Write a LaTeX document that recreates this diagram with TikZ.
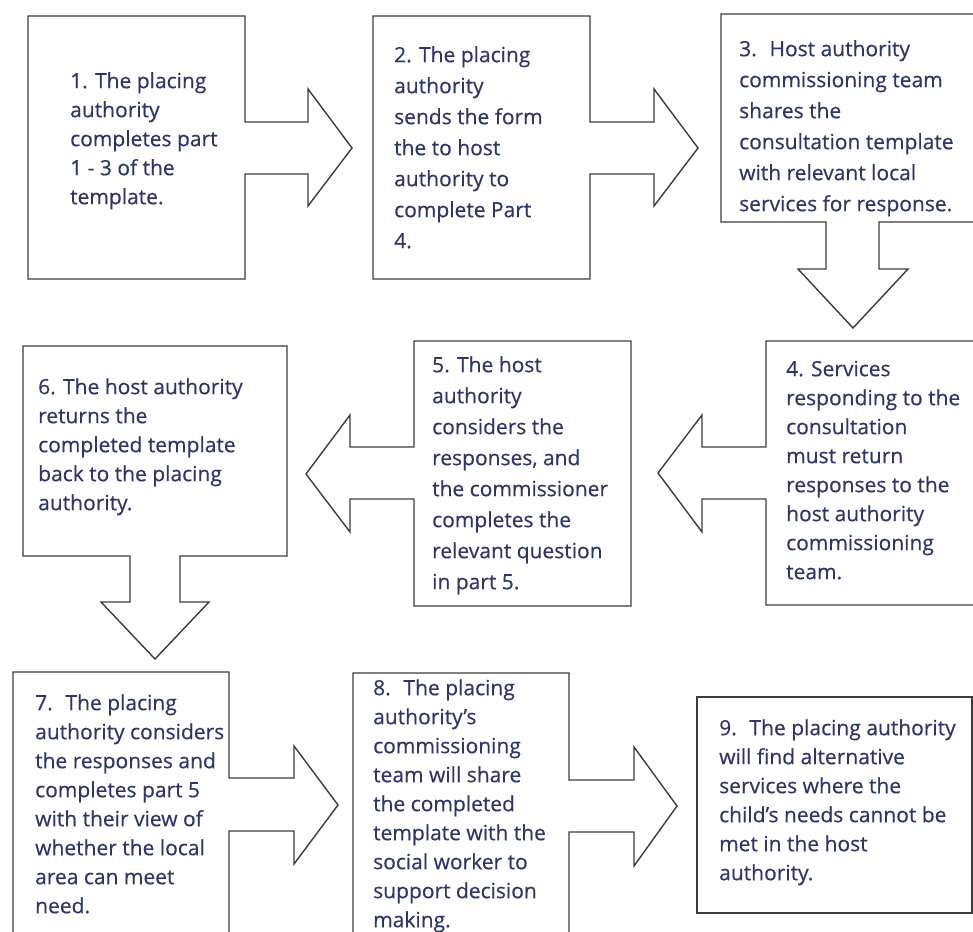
\documentclass[tikz,border=0pt]{standalone}
\usepackage{fontspec}
\setmainfont{Open Sans}
\newfontfamily\stepfont[FakeBold=0.35]{Open Sans}
\definecolor{txtc}{RGB}{46,54,104}
\definecolor{linec}{RGB}{60,60,60}
\begin{document}
\begin{tikzpicture}[x=1pt,y=-1pt,
  shapeline/.style={draw=linec,line width=1.4pt,line join=miter,fill=white},
  txt/.style={anchor=north west,inner sep=0pt,align=left,text=txtc,font=\stepfont\fontsize{21}{29}\selectfont},
  txtw/.style={txt,font=\stepfont\fontsize{21}{31}\selectfont}]
\useasboundingbox (0,0) rectangle (973,931);
\clip (0,0) rectangle (973,931);
% shape 1
\draw[shapeline] (28,16) -- (245,16) -- (245,122) -- (308,122) -- (308,89) -- (352,148) -- (308,206) -- (308,174) -- (245,174) -- (245,279) -- (28,279) -- cycle;
% shape 2
\draw[shapeline] (373,16) -- (590,16) -- (590,122) -- (654,122) -- (654,89) -- (698,148) -- (654,206) -- (654,174) -- (590,174) -- (590,279) -- (373,279) -- cycle;
% shape 3
\draw[shapeline] (721,14) -- (985,14) -- (985,222) -- (879,222) -- (879,269) -- (908,269) -- (853,328) -- (798,269) -- (826,269) -- (826,222) -- (721,222) -- cycle;
% shape 4
\draw[shapeline] (766,341) -- (985,341) -- (985,605) -- (766,605) -- (766,499) -- (702,499) -- (702,532) -- (658,473) -- (702,415) -- (702,447) -- (766,447) -- cycle;
% shape 5
\draw[shapeline] (414,341) -- (631,341) -- (631,606) -- (414,606) -- (414,499) -- (350,499) -- (350,532) -- (306,474) -- (350,415) -- (350,447) -- (414,447) -- cycle;
% shape 6
\draw[shapeline] (23,346) -- (287,346) -- (287,556) -- (180,556) -- (180,602) -- (209,602) -- (155,659) -- (101,602) -- (130,602) -- (130,556) -- (23,556) -- cycle;
% shape 7
\draw[shapeline] (13,945) -- (13,672) -- (229,672) -- (229,778) -- (294,778) -- (294,746) -- (338,805) -- (294,864) -- (294,831) -- (229,831) -- (229,945) -- cycle;
% shape 8
\draw[shapeline] (353,945) -- (353,673) -- (569,673) -- (569,780) -- (634,780) -- (634,747) -- (677,806) -- (634,866) -- (634,832) -- (569,832) -- (569,945) -- cycle;
% shape 9
\draw[shapeline] (697,697) rectangle (972,913);
% texts
\node[txt] (t1) at (70,88-20.3) {\strut 1. The placing\\authority\\completes part\\1 - 3 of the\\template.};
\node[txtw] (t2) at (394,62-21.7) {\strut 2. The placing\\authority\\sends the form\\the to host\\authority to\\complete Part\\4.};
\node[txtw] (t3) at (739,56-21.7) {\strut 3.~ Host authority\\commissioning team\\shares the\\consultation template\\with relevant local\\services for response.};
\node[txt] (t4) at (786,376-20.3) {\strut 4. Services\\responding to the\\consultation\\must return\\responses to the\\host authority\\commissioning\\team.};
\node[txtw] (t5) at (432,372-21.7) {\strut 5. The host\\authority\\considers the\\responses, and\\the commissioner\\completes the\\relevant question\\in part 5.};
\node[txt] (t6) at (38,394-20.3) {\strut 6. The host authority\\returns the\\completed template\\back to the placing\\authority.};
\node[txt] (t7) at (35,710-20.3) {\strut 7.~ The placing\\authority considers\\the responses and\\completes part 5\\with their view of\\whether the local\\area can meet\\need.};
\node[txt] (t8) at (373,695-20.3) {\strut 8.~ The placing\\authority’s\\commissioning\\team will share\\the completed\\template with the\\social worker to\\support decision\\making.};
\node[txt] (t9) at (719,735-20.3) {\strut 9.~ The placing authority\\will find alternative\\services where the\\child’s needs cannot be\\met in the host\\authority.};
\end{tikzpicture}
\end{document}
